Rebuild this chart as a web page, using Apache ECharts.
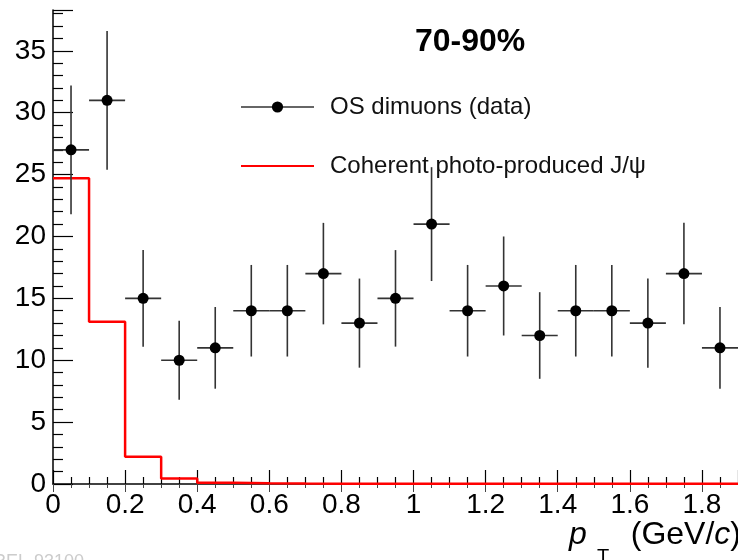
<!DOCTYPE html>
<html>
<head>
<meta charset="utf-8">
<script src="https://cdn.jsdelivr.net/npm/echarts@6/dist/echarts.min.js"></script>
<style>
  html, body { margin: 0; padding: 0; background: #fff; }
  #chart { width: 738px; height: 560px; }
</style>
</head>
<body>
<div id="chart"></div>
<script>
// bin centres (GeV/c) and counts of OS dimuons
const binCenters = [0.05, 0.15, 0.25, 0.35, 0.45, 0.55, 0.65, 0.75, 0.85, 0.95,
  1.05, 1.15, 1.25, 1.35, 1.45, 1.55, 1.65, 1.75, 1.85];
const counts = [27, 31, 15, 10, 11, 14, 14, 17, 13, 15, 21, 14, 16, 12, 14, 14, 13, 17, 11];
const countErrors = [5.2, 5.6, 3.9, 3.2, 3.3, 3.7, 3.7, 4.1, 3.6, 3.9, 4.6, 3.7, 4.0, 3.5, 3.7, 3.7, 3.6, 4.1, 3.3];
const halfBin = 0.05;

// coherent J/psi template: lower bin edges and heights
const binEdges = [0, 0.1, 0.2, 0.3, 0.4, 0.5, 0.6, 0.7, 0.8, 0.9, 1.0, 1.1, 1.2, 1.3, 1.4, 1.5, 1.6, 1.7, 1.8, 1.9];
const coherent = [24.7, 13.1, 2.2, 0.45, 0.1, 0.06, 0.04, 0.03, 0.02, 0.02, 0.02, 0.02, 0.02, 0.02, 0.02, 0.02, 0.02, 0.02, 0.02, 0.02];

const chart = echarts.init(document.getElementById('chart'));

const pointData = binCenters.map((x, i) => [x, counts[i]]);
const errData = binCenters.map((x, i) => [x, counts[i], countErrors[i]]);
const histData = binEdges.map((x, i) => [x, coherent[i]]);

const FONT = 'Liberation Sans, Arial, sans-serif';
const axisFont = { fontFamily: FONT, color: '#000' };

const options = {
  animation: false,
  backgroundColor: '#fff',
  title: {
    text: '70-90%',
    left: 410,
    top: 21,
    textStyle: { fontSize: 32, fontWeight: 'bold', color: '#000', fontFamily: FONT },
  },
  legend: {
    orient: 'vertical',
    left: 235,
    top: 90,
    itemWidth: 73,
    itemHeight: 14,
    itemGap: 35,
    textStyle: { fontSize: 24, color: '#111', fontFamily: FONT, padding: [0, 0, 0, 11] },
    data: [
      { name: 'OS dimuons (data)', lineStyle: { width: 1.5, color: '#333', opacity: 1 }, itemStyle: { color: '#000' } },
      { name: 'Coherent photo-produced J/ψ', itemStyle: { opacity: 0 } },
    ],
  },
  grid: { left: 53, right: 0, top: 10, bottom: 76, outerBoundsMode: 'none' },
  xAxis: [{
    type: 'value',
    min: 0,
    max: 1.9,
    interval: 0.2,
    axisLine: { onZero: false, lineStyle: { color: '#000', width: 1.5 } },
    axisTick: { inside: true, length: 14, lineStyle: { color: '#000', width: 1.2 } },
    minorTick: { show: true, splitNumber: 4, length: 7, lineStyle: { color: '#000', width: 1.2 } },
    splitLine: { show: false },
    axisLabel: Object.assign({ fontSize: 28, margin: 7, showMaxLabel: false,
      formatter: v => (Math.abs(v) < 1e-9 ? '0' : String(+v.toFixed(1))) }, axisFont),
  }, {
    type: 'value',
    position: 'top',
    min: 0,
    max: 1.9,
    interval: 0.2,
    axisLine: { lineStyle: { color: '#444', width: 1.5 } },
    axisTick: { inside: true, length: 8, lineStyle: { color: '#444' } },
    minorTick: { show: true, splitNumber: 4, length: 4, lineStyle: { color: '#444' } },
    axisLabel: { show: false },
    splitLine: { show: false },
  }],
  yAxis: {
    type: 'value',
    min: 0,
    max: 38.3,
    interval: 5,
    axisLine: { show: true, lineStyle: { color: '#000', width: 1.5 } },
    axisTick: { inside: true, length: 20, lineStyle: { color: '#000', width: 1.2 } },
    minorTick: { show: true, splitNumber: 5, length: 10, lineStyle: { color: '#000', width: 1.2 } },
    splitLine: { show: false },
    axisLabel: Object.assign({ fontSize: 28, margin: 7, showMaxLabel: false }, axisFont),
  },
  graphic: [
    // x-axis title: p_T (GeV/c)
    { type: 'text', x: 569, y: 519,
      style: { text: 'p', fontSize: 32, fontStyle: 'italic', fill: '#000', fontFamily: FONT, verticalAlign: 'top' } },
    { type: 'text', x: 597, y: 547,
      style: { text: 'T', fontSize: 20, fill: '#000', fontFamily: FONT, verticalAlign: 'top' } },
    { type: 'text', x: 741, y: 519,
      style: {
        text: '(GeV/{i|c})', fontSize: 32, fill: '#000', fontFamily: FONT, align: 'right', verticalAlign: 'top',
        rich: { i: { fontSize: 32, fontStyle: 'italic', fontFamily: FONT, fill: '#000' } },
      } },
    { type: 'text', x: 84, y: 553,
      style: { text: 'ALI-PREL-93100', fontSize: 18, fill: '#ccc', fontFamily: FONT, align: 'right', verticalAlign: 'top' } },
  ],
  series: [
    {
      name: 'Coherent photo-produced J/ψ',
      type: 'line',
      step: 'end',
      symbol: 'none',
      data: histData,
      lineStyle: { color: '#ff0000', width: 2.5 },
      itemStyle: { color: '#ff0000' },
      z: 2,
    },
    {
      name: 'errors',
      type: 'custom',
      silent: true,
      data: errData,
      z: 3,
      renderItem(params, api) {
        const x = api.value(0);
        const y = api.value(1);
        const e = api.value(2);
        const c = api.coord([x, y]);
        const left = api.coord([x - halfBin, y]);
        const right = api.coord([x + halfBin, y]);
        const top = api.coord([x, y + e]);
        const bottom = api.coord([x, y - e]);
        const style = { stroke: '#333', lineWidth: 1.6 };
        return {
          type: 'group',
          children: [
            { type: 'line', shape: { x1: left[0], y1: c[1], x2: right[0], y2: c[1] }, style },
            { type: 'line', shape: { x1: c[0], y1: top[1], x2: c[0], y2: bottom[1] }, style },
          ],
        };
      },
    },
    {
      name: 'OS dimuons (data)',
      type: 'line',
      data: pointData,
      symbol: 'circle',
      symbolSize: 11,
      lineStyle: { width: 0, color: '#333' },
      itemStyle: { color: '#000' },
      z: 4,
    },
  ],
};

chart.setOption(options);
</script>
</body>
</html>
